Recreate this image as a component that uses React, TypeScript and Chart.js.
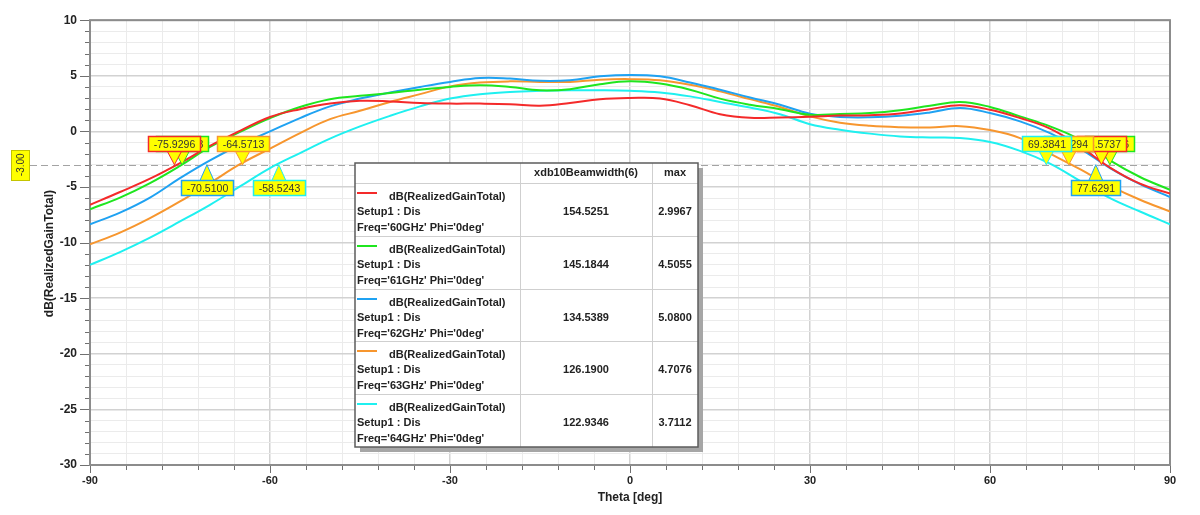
import React, { useEffect, useRef } from "react";
import { Chart, registerables } from "chart.js";

Chart.register(...registerables);

// ---- data ----
const theta = [-90, -85, -80, -75, -70, -65, -60, -55, -50, -45, -40, -35, -30, -25, -20, -15, -10, -5, 0, 5, 10, 15, 20, 25, 30, 35, 40, 45, 50, 55, 60, 65, 70, 75, 80, 85, 90];

const gain60 = [-6.6, -5.45, -4.25, -2.85, -1.3, 0.05, 1.3, 2.0, 2.5, 2.75, 2.7, 2.55, 2.5, 2.5, 2.45, 2.3, 2.55, 2.9, 3.0, 2.95, 2.35, 1.55, 1.22, 1.25, 1.32, 1.42, 1.45, 1.6, 2.0, 2.35, 1.95, 1.2, 0.25, -1.35, -3.25, -4.7, -5.6];
const gain61 = [-7.0, -5.95, -4.65, -3.1, -1.4, -0.05, 1.2, 2.2, 2.9, 3.2, 3.45, 3.75, 4.0, 4.15, 4.0, 3.7, 3.8, 4.25, 4.5, 4.3, 3.75, 2.95, 2.4, 2.0, 1.5, 1.57, 1.65, 1.9, 2.3, 2.65, 2.2, 1.35, 0.45, -0.75, -2.6, -4.1, -5.25];
const gain62 = [-8.35, -7.3, -5.95, -4.2, -2.6, -1.2, 0.0, 1.2, 2.25, 2.95, 3.5, 4.0, 4.45, 4.8, 4.75, 4.55, 4.6, 4.95, 5.08, 4.95, 4.4, 3.75, 3.05, 2.4, 1.6, 1.3, 1.27, 1.4, 1.7, 2.1, 1.65, 0.9, -0.15, -1.55, -3.3, -4.75, -5.9];
const gain63 = [-10.15, -9.1, -7.8, -6.3, -4.65, -2.95, -1.55, -0.15, 1.1, 1.85, 2.65, 3.35, 4.05, 4.4, 4.5, 4.45, 4.45, 4.65, 4.7, 4.6, 4.2, 3.6, 2.9, 2.2, 1.35, 0.78, 0.5, 0.38, 0.36, 0.47, 0.12, -0.6, -2.0, -3.4, -4.9, -6.15, -7.2];
const gain64 = [-12.0, -10.85, -9.55, -8.1, -6.6, -4.95, -3.3, -1.95, -0.65, 0.45, 1.4, 2.25, 2.95, 3.35, 3.55, 3.65, 3.7, 3.7, 3.65, 3.5, 3.15, 2.65, 2.15, 1.55, 0.65, 0.15, -0.2, -0.45, -0.55, -0.6, -0.95, -1.75, -2.9, -4.45, -6.0, -7.2, -8.35];

const seriesValues = [gain60, gain61, gain62, gain63, gain64];
const freqLabels = ["Freq='60GHz' Phi='0deg'", "Freq='61GHz' Phi='0deg'", "Freq='62GHz' Phi='0deg'", "Freq='63GHz' Phi='0deg'", "Freq='64GHz' Phi='0deg'"];
const beamwidthVals = ["154.5251", "145.1844", "134.5389", "126.1900", "122.9346"];
const maxVals = ["2.9967", "4.5055", "5.0800", "4.7076", "3.7112"];

const leftCross = [-75.9296, -74.6418, -70.51, -64.5713, -58.5243];
const leftCrossText = ["-75.9296", "-74.6418", "-70.5100", "-64.5713", "-58.5243"];
const rightCross = [78.5737, 79.9856, 77.6291, 73.1294, 69.3841];
const rightCrossText = ["78.5737", "79.9856", "77.6291", "73.1294", "69.3841"];
const markerLevel = -3;

const COLORS = ["#f42a2a", "#1fe61f", "#1fa2f2", "#f7962e", "#1ff0f0"];
const FONT = '"Liberation Sans", Arial, sans-serif';

function drawMarker(ctx: CanvasRenderingContext2D, ax: number, ay: number, text: string, color: string, above: boolean) {
  ctx.save();
  ctx.font = `10.5px ${FONT}`;
  const w = Math.round(ctx.measureText(text).width + 11);
  const h = 15;
  const left = Math.round(ax - w / 2) + 0.5;
  const top = above ? Math.round(ay - 29) + 0.5 : Math.round(ay + 15) + 0.5;
  ctx.beginPath();
  if (above) {
    ctx.moveTo(ax - 7, top + h);
    ctx.lineTo(ax + 7, top + h);
  } else {
    ctx.moveTo(ax - 7, top);
    ctx.lineTo(ax + 7, top);
  }
  ctx.lineTo(ax, ay);
  ctx.closePath();
  ctx.fillStyle = "#ffff00";
  ctx.fill();
  ctx.strokeStyle = color;
  ctx.lineWidth = 1;
  ctx.stroke();
  ctx.fillStyle = "#ffff00";
  ctx.fillRect(left, top, w, h);
  ctx.lineWidth = 1.5;
  ctx.strokeStyle = color;
  ctx.strokeRect(left, top, w, h);
  ctx.fillStyle = "#333";
  ctx.textAlign = "center";
  ctx.textBaseline = "middle";
  ctx.fillText(text, left + w / 2, top + h / 2 + 1);
  ctx.restore();
}

const overlayPlugin = {
  id: "overlay",
  beforeDatasetsDraw(chart: any) {
    const { ctx, chartArea: a, scales } = chart;
    const x = scales.x, y = scales.y;
    ctx.save();
    const y3 = Math.round(y.getPixelForValue(markerLevel)) + 0.5;
    ctx.setLineDash([7, 4]);
    ctx.strokeStyle = "#a3a3a3";
    ctx.lineWidth = 1;
    ctx.beginPath();
    ctx.moveTo(30, y3);
    ctx.lineTo(a.right, y3);
    ctx.stroke();
    ctx.setLineDash([]);
    ctx.strokeStyle = "#707070";
    ctx.lineWidth = 1;
    y.ticks.forEach((t: any) => {
      const py = Math.round(y.getPixelForValue(t.value)) + 0.5;
      const len = Math.round(t.value) % 5 === 0 ? 10 : 5;
      ctx.beginPath();
      ctx.moveTo(a.left - len, py);
      ctx.lineTo(a.left, py);
      ctx.stroke();
    });
    x.ticks.forEach((t: any) => {
      const px = Math.round(x.getPixelForValue(t.value)) + 0.5;
      const len = Math.round(t.value) % 30 === 0 ? 8 : 5;
      ctx.beginPath();
      ctx.moveTo(px, a.bottom);
      ctx.lineTo(px, a.bottom + len);
      ctx.stroke();
    });
    ctx.strokeStyle = "#8c8c8c";
    ctx.lineWidth = 2;
    ctx.strokeRect(a.left, a.top, a.right - a.left, a.bottom - a.top);
    ctx.restore();
  },
  afterDraw(chart: any) {
    const { ctx, chartArea: a, scales } = chart;
    const x = scales.x, y = scales.y;
    const ay = y.getPixelForValue(markerLevel);
    ctx.save();

    ctx.fillStyle = "#222";
    ctx.font = `bold 12px ${FONT}`;
    ctx.textAlign = "center";
    ctx.textBaseline = "middle";
    ctx.fillText("Theta [deg]", (a.left + a.right) / 2, 498);
    ctx.save();
    ctx.translate(50, (a.top + a.bottom) / 2 + 11);
    ctx.rotate(-Math.PI / 2);
    ctx.fillText("dB(RealizedGainTotal)", 0, 0);
    ctx.restore();

    ctx.fillStyle = "#ffff00";
    ctx.fillRect(11.5, Math.round(ay) - 14.5, 18, 30);
    ctx.strokeStyle = "#c4c400";
    ctx.lineWidth = 1;
    ctx.strokeRect(11.5, Math.round(ay) - 14.5, 18, 30);
    ctx.save();
    ctx.translate(21, ay);
    ctx.rotate(-Math.PI / 2);
    ctx.fillStyle = "#333";
    ctx.font = `10px ${FONT}`;
    ctx.fillText("-3.00", 0, 0);
    ctx.restore();

    const leftOrder = [1, 0, 3, 2, 4];
    const leftAbove = [true, true, false, true, false];
    leftOrder.forEach((i) => {
      drawMarker(ctx, x.getPixelForValue(leftCross[i]), ay, leftCrossText[i], COLORS[i], leftAbove[i]);
    });
    const rightOrder = [1, 0, 3, 4, 2];
    const rightAbove = [true, true, false, true, true];
    rightOrder.forEach((i) => {
      drawMarker(ctx, x.getPixelForValue(rightCross[i]), ay, rightCrossText[i], COLORS[i], rightAbove[i]);
    });

    const L = 355, T = 163, R = 698, B = 447;
    const hdr = 20;
    const rowH = (B - T - hdr) / 5;
    const c1 = 520, c2 = 652;
    ctx.fillStyle = "#a6a6a6";
    ctx.fillRect(L + 5, T + 5, R - L, B - T);
    ctx.fillStyle = "#ffffff";
    ctx.fillRect(L, T, R - L, B - T);
    ctx.strokeStyle = "#cfcfcf";
    ctx.lineWidth = 1;
    ctx.beginPath();
    for (let i = 0; i < 5; i++) {
      const ry = Math.round(T + hdr + i * rowH) + 0.5;
      ctx.moveTo(L, ry);
      ctx.lineTo(R, ry);
    }
    ctx.moveTo(c1 + 0.5, T);
    ctx.lineTo(c1 + 0.5, B);
    ctx.moveTo(c2 + 0.5, T);
    ctx.lineTo(c2 + 0.5, B);
    ctx.stroke();
    ctx.strokeStyle = "#5c5c5c";
    ctx.lineWidth = 1.5;
    ctx.strokeRect(L, T, R - L, B - T);

    ctx.fillStyle = "#222";
    ctx.font = `bold 11px ${FONT}`;
    ctx.textBaseline = "middle";
    ctx.textAlign = "center";
    ctx.fillText("xdb10Beamwidth(6)", (c1 + c2) / 2, T + 10);
    ctx.fillText("max", (c2 + R) / 2, T + 10);
    for (let i = 0; i < 5; i++) {
      const rt = T + hdr + i * rowH;
      ctx.strokeStyle = COLORS[i];
      ctx.lineWidth = 2;
      ctx.beginPath();
      ctx.moveTo(357, Math.round(rt + 10));
      ctx.lineTo(377, Math.round(rt + 10));
      ctx.stroke();
      ctx.fillStyle = "#222";
      ctx.textAlign = "left";
      ctx.fillText("dB(RealizedGainTotal)", 389, rt + 14);
      ctx.fillText("Setup1 : Dis", 357, rt + 29);
      ctx.fillText(freqLabels[i], 357, rt + 45);
      ctx.textAlign = "center";
      ctx.fillText(beamwidthVals[i], (c1 + c2) / 2, rt + 29);
      ctx.fillText(maxVals[i], (c2 + R) / 2, rt + 29);
    }
    ctx.restore();
  },
};

export default function App() {
  const ref = useRef<HTMLCanvasElement | null>(null);
  useEffect(() => {
    document.body.style.margin = "0";
    if (!ref.current) return;
    const chart = new Chart(ref.current, {
      type: "line",
      data: {
        datasets: seriesValues.map((vals, i) => ({
          label: freqLabels[i],
          data: theta.map((t, j) => ({ x: t, y: vals[j] })),
          borderColor: COLORS[i],
          backgroundColor: COLORS[i],
          borderWidth: 2,
          pointRadius: 0,
          tension: 0.4,
          fill: false,
        })),
      },
      options: {
        animation: false,
        responsive: false,
        devicePixelRatio: 1,
        layout: { padding: { top: 11, right: 30, left: 0, bottom: 0 } },
        plugins: { legend: { display: false }, tooltip: { enabled: false } },
        scales: {
          x: {
            type: "linear",
            min: -90,
            max: 90,
            afterFit: (s: any) => { s.height = 50; },
            border: { display: false },
            grid: {
              drawTicks: false,
              color: (c: any) => (Math.round(c.tick.value) % 30 === 0 ? "#d2d2d2" : "#ebebeb"),
              lineWidth: (c: any) => (Math.round(c.tick.value) % 30 === 0 ? 1.5 : 1),
            },
            ticks: {
              stepSize: 6,
              autoSkip: false,
              maxRotation: 0,
              padding: 9,
              color: "#222",
              font: { family: FONT, size: 11, weight: "bold" },
              callback: (v: any) => (Math.round(v) % 30 === 0 ? String(Math.round(v)) : ""),
            },
          },
          y: {
            type: "linear",
            min: -30,
            max: 10,
            afterFit: (s: any) => { s.width = 90; },
            border: { display: false },
            grid: {
              drawTicks: false,
              color: (c: any) => (Math.round(c.tick.value) % 5 === 0 ? "#d2d2d2" : "#ebebeb"),
              lineWidth: (c: any) => (Math.round(c.tick.value) % 5 === 0 ? 1.5 : 1),
            },
            ticks: {
              stepSize: 1,
              autoSkip: false,
              padding: 13,
              color: "#222",
              font: { family: FONT, size: 12, weight: "bold" },
              callback: (v: any) => (Math.round(v) % 5 === 0 ? String(Math.round(v)) : ""),
            },
          },
        },
      },
      plugins: [overlayPlugin],
    } as any);
    return () => chart.destroy();
  }, []);
  return <canvas ref={ref} width={1200} height={515} style={{ display: "block" }} />;
}
